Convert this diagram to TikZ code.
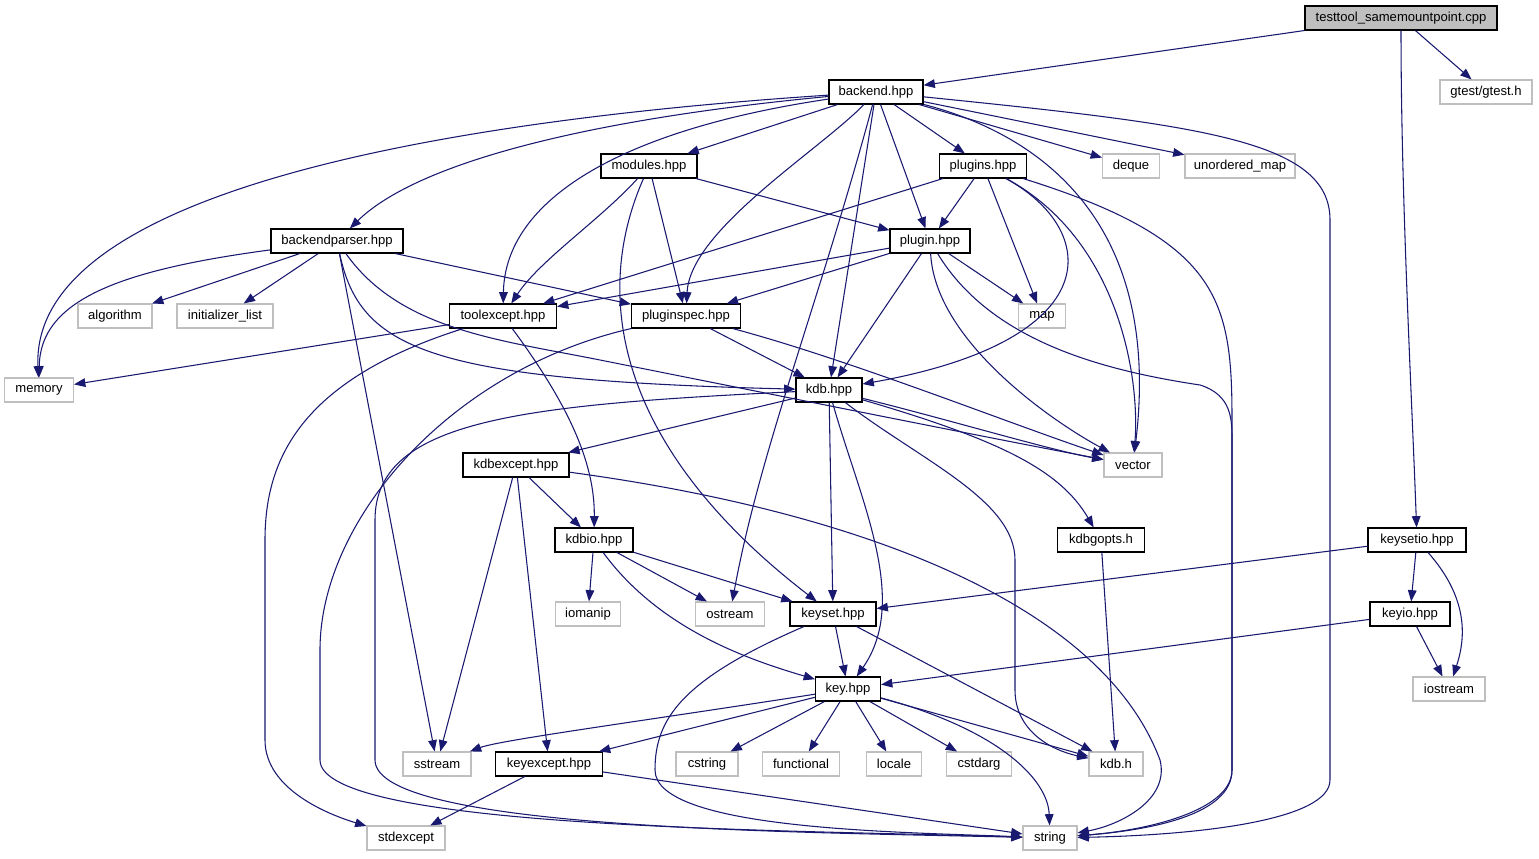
\documentclass[tikz,border=0pt]{standalone}
\usepackage{fontspec}
\setmainfont{Liberation Sans}
\usetikzlibrary{arrows.meta}
\definecolor{edge}{HTML}{191970}
\definecolor{graybd}{HTML}{BFBFBF}
\tikzset{
  box/.style={draw=black, line width=0.8pt, inner xsep=0pt, inner ysep=0pt, minimum height=18pt, font=\fontsize{9.8}{11}\selectfont, fill=white},
  ext/.style={box, draw=graybd},
  w/.style={minimum width={#1*0.75pt}},
  dep/.style={draw=edge, line width=0.8pt, -{Triangle[length=8.5pt,width=6.5pt]}}
}
\begin{document}
\begin{tikzpicture}[x=0.75pt,y=-0.75pt]
\useasboundingbox (0,0) rectangle (1539,859);
% nodes
\node[box,w=192,fill=graybd] (tt) at (1401,18) {testtool\_samemountpoint.cpp};
\node[box,w=94] (backend) at (876,92) {backend.hpp};
\node[ext,w=92] (gtest) at (1486,92) {gtest/gtest.h};
\node[box,w=96] (modules) at (649,166) {modules.hpp};
\node[box,w=87] (plugins) at (983,166) {plugins.hpp};
\node[ext,w=57] (deque) at (1131,166) {deque};
\node[ext,w=110] (umap) at (1240,166) {unordered\_map};
\node[box,w=132] (bparser) at (337,241) {backendparser.hpp};
\node[box,w=80] (plugin) at (930,241) {plugin.hpp};
\node[ext,w=74] (algorithm) at (115,316) {algorithm};
\node[ext,w=96] (initlist) at (225,316) {initializer\_list};
\node[box,w=107] (toolexcept) at (503,316) {toolexcept.hpp};
\node[box,w=109] (pluginspec) at (686,316) {pluginspec.hpp};
\node[ext,w=47] (map) at (1042,316) {map};
\node[ext,w=69] (memory) at (39,390) {memory};
\node[box,w=66] (kdb) at (829,390) {kdb.hpp};
\node[ext,w=58] (vector) at (1133,465) {vector};
\node[box,w=106] (kdbexcept) at (516,465) {kdbexcept.hpp};
\node[box,w=87] (kdbgopts) at (1101,540) {kdbgopts.h};
\node[box,w=98] (keysetio) at (1417,540) {keysetio.hpp};
\node[box,w=78] (kdbio) at (594,540) {kdbio.hpp};
\node[ext,w=65] (iomanip) at (588,614) {iomanip};
\node[ext,w=69] (ostream) at (730,614) {ostream};
\node[box,w=86] (keyset) at (833,614) {keyset.hpp};
\node[box,w=80] (keyio) at (1410,614) {keyio.hpp};
\node[ext,w=72] (iostream) at (1449,689) {iostream};
\node[box,w=65] (key) at (848,689) {key.hpp};
\node[ext,w=68] (sstream) at (437,764) {sstream};
\node[box,w=107] (keyexcept) at (549,764) {keyexcept.hpp};
\node[ext,w=62] (cstring) at (707,764) {cstring};
\node[ext,w=77] (functional) at (801,764) {functional};
\node[ext,w=55] (locale) at (894,764) {locale};
\node[ext,w=65] (cstdarg) at (979,764) {cstdarg};
\node[ext,w=54] (kdbh) at (1116,764) {kdb.h};
\node[ext,w=78] (stdexcept) at (406,838) {stdexcept};
\node[ext,w=54] (string) at (1050,838) {string};
% testtool
\draw[dep] (tt.south west) -- (backend);
\draw[dep] (tt) -- (gtest);
\draw[dep] (tt.south) .. controls (1401,200) and (1412,400) .. (keysetio);
% backend
\draw[dep] (backend) .. controls (450,120) and (30,190) .. (memory);
\draw[dep] (backend) .. controls (600,118) and (420,160) .. (bparser);
\draw[dep] (backend) .. controls (620,130) and (505,200) .. (toolexcept);
\draw[dep] (backend) -- (modules);
\draw[dep] (backend) .. controls (820,150) and (690,230) .. (pluginspec);
\draw[dep] (backend) -- (plugins);
\draw[dep] (backend) -- (plugin);
\draw[dep] (backend) -- (kdb);
\draw[dep] (backend) .. controls (820,300) and (760,450) .. (ostream);
\draw[dep] (backend) -- (deque);
\draw[dep] (backend) -- (umap);
\draw[dep] (backend) .. controls (1060,140) and (1160,240) .. (vector);
\draw[dep] (backend) .. controls (1200,125) and (1330,140) .. (1330,220) -- (1330,780) .. controls (1330,820) and (1200,835) .. (string);
% modules
\draw[dep] (modules) .. controls (600,220) and (540,260) .. (toolexcept);
\draw[dep] (modules) -- (pluginspec);
\draw[dep] (modules) -- (plugin);
\draw[dep] (modules) .. controls (590,300) and (620,450) .. (keyset);
% plugins
\draw[dep] (plugins) -- (toolexcept);
\draw[dep] (plugins) -- (plugin);
\draw[dep] (plugins) -- (map);
\draw[dep] (plugins) .. controls (1100,230) and (1110,340) .. (kdb);
\draw[dep] (plugins) .. controls (1120,240) and (1140,380) .. (vector);
\draw[dep] (plugins) .. controls (1220,240) and (1232,300) .. (1232,420) -- (1232,770) .. controls (1232,810) and (1150,830) .. (string);
% backendparser
\draw[dep] (bparser) .. controls (120,270) and (40,300) .. (memory);
\draw[dep] (bparser) -- (algorithm);
\draw[dep] (bparser) -- (initlist);
\draw[dep] (bparser) -- (pluginspec);
\draw[dep] (bparser) .. controls (360,350) and (430,380) .. (kdb);
\draw[dep] (bparser) .. controls (400,330) and (500,340) .. (600,360) .. controls (800,400) and (1000,440) .. (vector);
\draw[dep] (bparser) -- (sstream);
% plugin
\draw[dep] (plugin) -- (toolexcept);
\draw[dep] (plugin) -- (pluginspec);
\draw[dep] (plugin) -- (map);
\draw[dep] (plugin) -- (kdb);
\draw[dep] (plugin) .. controls (935,340) and (1050,420) .. (vector);
\draw[dep] (plugin) .. controls (990,340) and (1100,370) .. (1200,385) .. controls (1232,395) and (1232,420) .. (1232,440) -- (1232,770) .. controls (1232,815) and (1150,830) .. (string);
% toolexcept
\draw[dep] (toolexcept) -- (memory);
\draw[dep] (toolexcept) .. controls (300,380) and (265,460) .. (265,540) -- (265,740) .. controls (265,790) and (330,815) .. (stdexcept);
\draw[dep] (toolexcept) .. controls (565,400) and (595,460) .. (kdbio);
% pluginspec
\draw[dep] (pluginspec) -- (kdb);
\draw[dep] (pluginspec) .. controls (850,360) and (1000,420) .. (vector);
\draw[dep] (pluginspec) .. controls (450,370) and (320,520) .. (320,650) -- (320,760) .. controls (320,830) and (800,830) .. (string);
% kdb
\draw[dep] (kdb) -- (kdbexcept);
\draw[dep] (kdb) .. controls (950,420) and (1050,450) .. (vector);
\draw[dep] (kdb) .. controls (1000,440) and (1060,470) .. (kdbgopts);
\draw[dep] (kdb) -- (keyset);
\draw[dep] (kdb) .. controls (860,500) and (910,600) .. (key);
\draw[dep] (kdb) .. controls (920,460) and (1015,500) .. (1015,560) -- (1015,690) .. controls (1015,730) and (1050,750) .. (kdbh);
\draw[dep] (kdb) .. controls (520,405) and (375,420) .. (375,520) -- (375,760) .. controls (375,830) and (800,832) .. (string);
% kdbexcept
\draw[dep] (kdbexcept) -- (kdbio);
\draw[dep] (kdbexcept) -- (sstream);
\draw[dep] (kdbexcept) -- (keyexcept);
\draw[dep] (kdbexcept) .. controls (850,510) and (1100,600) .. (1160,760) .. controls (1170,800) and (1120,825) .. (string);
% kdbio
\draw[dep] (kdbio) -- (iomanip);
\draw[dep] (kdbio) -- (ostream);
\draw[dep] (kdbio) -- (keyset);
\draw[dep] (kdbio) .. controls (660,630) and (750,660) .. (key);
% kdbgopts
\draw[dep] (kdbgopts) -- (kdbh);
% keysetio
\draw[dep] (keysetio) -- (keyset);
\draw[dep] (keysetio) -- (keyio);
\draw[dep] (keysetio) .. controls (1470,600) and (1465,640) .. (iostream);
% keyio
\draw[dep] (keyio) -- (key);
\draw[dep] (keyio) -- (iostream);
% keyset
\draw[dep] (keyset) -- (key);
\draw[dep] (keyset) -- (kdbh);
\draw[dep] (keyset) .. controls (680,680) and (655,720) .. (655,770) .. controls (655,830) and (900,832) .. (string);
% key
\draw[dep] (key) .. controls (650,720) and (500,740) .. (sstream);
\draw[dep] (key) -- (keyexcept);
\draw[dep] (key) -- (cstring);
\draw[dep] (key) -- (functional);
\draw[dep] (key) -- (locale);
\draw[dep] (key) -- (cstdarg);
\draw[dep] (key) -- (kdbh);
\draw[dep] (key) .. controls (1000,730) and (1048,780) .. (string);
% keyexcept
\draw[dep] (keyexcept) -- (stdexcept);
\draw[dep] (keyexcept) -- (string);
\end{tikzpicture}
\end{document}
